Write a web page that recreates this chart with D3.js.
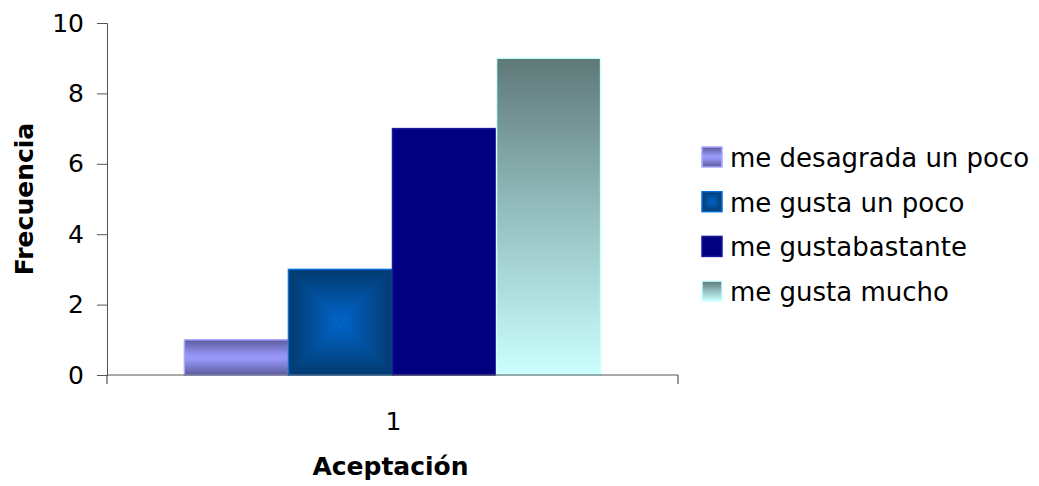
<!DOCTYPE html>
<html>
<head>
<meta charset="utf-8">
<script src="https://cdn.jsdelivr.net/npm/d3@7"></script>
<style>
  body { margin: 0; background: #fff; }
  svg { display: block; }
  text { font-family: "DejaVu Sans", Verdana, sans-serif; fill: #000; }
</style>
</head>
<body>
<svg id="chart" width="1039" height="486"></svg>
<script>
// Response categories and their counts
const seriesNames = ["me desagrada un poco", "me gusta un poco", "me gustabastante", "me gusta mucho"];
const seriesValues = [1, 3, 7, 9];
const categories = ["1"];
const yTicks = [0, 2, 4, 6, 8, 10];

const svg = d3.select("#chart");
const margin = { left: 107, right: 361, top: 23, bottom: 111 };
const W = 1039, H = 486;
const plotW = W - margin.left - margin.right;
const plotH = H - margin.top - margin.bottom;

const defs = svg.append("defs");

// Series 1: lavender with darker top and bottom bands
const g1 = defs.append("linearGradient").attr("id", "fill0").attr("x1", 0).attr("y1", 0).attr("x2", 0).attr("y2", 1);
g1.append("stop").attr("offset", "0%").attr("stop-color", "#5c5c9c");
g1.append("stop").attr("offset", "45%").attr("stop-color", "#9797f8");
g1.append("stop").attr("offset", "55%").attr("stop-color", "#9797f8");
g1.append("stop").attr("offset", "100%").attr("stop-color", "#5c5c9c");

// Series 2 colours: bright centre, dark edges
const edgeBlue = "#033a6e", centerBlue = "#0066cc";

// Series 4: grey-teal at top fading to pale cyan
const g4 = defs.append("linearGradient").attr("id", "fill3").attr("x1", 0).attr("y1", 0).attr("x2", 0).attr("y2", 1);
g4.append("stop").attr("offset", "0%").attr("stop-color", "#5f7878");
g4.append("stop").attr("offset", "50%").attr("stop-color", "#96c0c0");
g4.append("stop").attr("offset", "100%").attr("stop-color", "#ccffff");

const strokes = ["#a8a8ff", "#0a6ed8", "#1a1a9a", "#ccffff"];

const root = svg.append("g").attr("transform", `translate(${margin.left},${margin.top})`);

const x0 = d3.scaleBand().domain(categories).range([0, plotW]).paddingInner(0).paddingOuter(0.186);
const x1 = d3.scaleBand().domain(d3.range(seriesNames.length)).range([0, x0.bandwidth()]);
const y = d3.scaleLinear().domain([0, 10]).range([plotH, 0]);

let gradCount = 0;
// Draws a rectangle with the shading style of a given series
function drawBox(sel, i, bx, by, bw, bh) {
  const g = sel.append("g");
  if (i === 1) {
    const pts = (a) => a.map(p => p.join(",")).join(" ");
    const gid = "pyr" + (gradCount++);
    g.append("rect").attr("x", bx).attr("y", by).attr("width", bw).attr("height", bh).attr("fill", edgeBlue);
    const vg = defs.append("linearGradient").attr("id", gid + "v").attr("gradientUnits", "userSpaceOnUse")
      .attr("x1", 0).attr("y1", by).attr("x2", 0).attr("y2", by + bh);
    const hg = defs.append("linearGradient").attr("id", gid + "h").attr("gradientUnits", "userSpaceOnUse")
      .attr("x1", bx).attr("y1", 0).attr("x2", bx + bw).attr("y2", 0);
    [vg, hg].forEach(gr => {
      gr.append("stop").attr("offset", "0%").attr("stop-color", edgeBlue);
      gr.append("stop").attr("offset", "50%").attr("stop-color", centerBlue);
      gr.append("stop").attr("offset", "100%").attr("stop-color", edgeBlue);
    });
    const h = Math.min(bw, bh) / 2;
    // top/bottom trapezoids shade vertically, left/right shade horizontally
    const lx = bx + h, rx = bx + bw - h, ty = by + h, byy = by + bh - h;
    g.append("polygon").attr("points", pts([[bx, by], [bx + bw, by], [rx, ty], [lx, ty]])).attr("fill", `url(#${gid}v)`);
    g.append("polygon").attr("points", pts([[bx, by + bh], [bx + bw, by + bh], [rx, byy], [lx, byy]])).attr("fill", `url(#${gid}v)`);
    g.append("polygon").attr("points", pts([[bx, by], [lx, ty], [lx, byy], [bx, by + bh]])).attr("fill", `url(#${gid}h)`);
    g.append("polygon").attr("points", pts([[bx + bw, by], [rx, ty], [rx, byy], [bx + bw, by + bh]])).attr("fill", `url(#${gid}h)`);
    g.append("rect").attr("x", bx).attr("y", by).attr("width", bw).attr("height", bh)
      .attr("fill", "none").attr("stroke", strokes[i]).attr("stroke-width", 1.5);
  } else {
    const fill = i === 0 ? "url(#fill0)" : i === 2 ? "#000080" : "url(#fill3)";
    g.append("rect").attr("x", bx).attr("y", by).attr("width", bw).attr("height", bh)
      .attr("fill", fill).attr("stroke", strokes[i]).attr("stroke-width", 1.5);
  }
}

// Bars
categories.forEach(c => {
  seriesValues.forEach((v, i) => {
    const bx = x0(c) + x1(i);
    drawBox(root, i, bx, y(v), x1.bandwidth(), plotH - y(v));
  });
});

// Y axis
const yAxis = root.append("g").call(d3.axisLeft(y).tickValues(yTicks).tickSize(10).tickPadding(13).tickFormat(d3.format("d")));
yAxis.select(".domain").attr("stroke", "#555").attr("stroke-width", 1);
yAxis.selectAll(".tick line").attr("stroke", "#555");
yAxis.selectAll(".tick text").attr("font-size", 25).attr("font-family", "DejaVu Sans");

// X axis with boundary tick marks at each category edge
const xAxisG = root.append("g").attr("transform", `translate(0,${plotH})`);
xAxisG.append("line").attr("x1", 0).attr("x2", plotW).attr("y1", 0).attr("y2", 0).attr("stroke", "#555");
[0, plotW].forEach(px => {
  xAxisG.append("line").attr("x1", px).attr("x2", px).attr("y1", 0).attr("y2", 9).attr("stroke", "#333");
});
categories.forEach(c => {
  xAxisG.append("text").attr("x", x0(c) + x0.bandwidth() / 2 + 1).attr("y", 55)
    .attr("text-anchor", "middle").attr("font-size", 25).text(c);
});

// Axis titles
svg.append("text").attr("x", margin.left + plotW / 2 - 2).attr("y", 475)
  .attr("text-anchor", "middle").attr("font-size", 25).attr("font-weight", "bold").text("Aceptación");
svg.append("text").attr("transform", `translate(33,199) rotate(-90)`)
  .attr("text-anchor", "middle").attr("font-size", 25).attr("font-weight", "bold").text("Frecuencia");

// Legend
const legend = svg.append("g").attr("transform", "translate(702,147)");
seriesNames.forEach((name, i) => {
  const row = legend.append("g").attr("transform", `translate(0,${i * 44.7})`);
  drawBox(row, i, 0, 0, 20, 20);
  row.append("text").attr("x", 28).attr("y", 20).attr("font-size", 26).text(name);
});
</script>
</body>
</html>
